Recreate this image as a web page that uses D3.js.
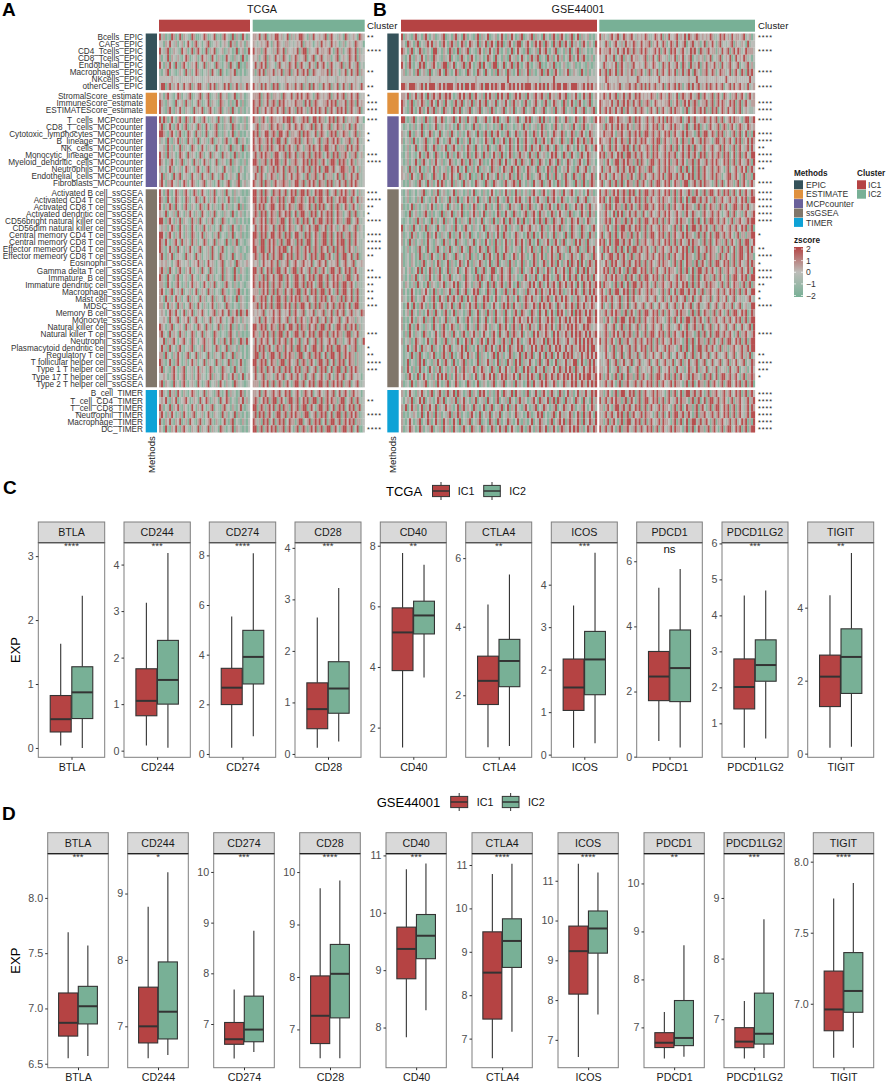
<!DOCTYPE html>
<html><head><meta charset="utf-8">
<script src="https://cdn.jsdelivr.net/npm/d3@7"></script>
<style>html,body{margin:0;padding:0;background:#fff}svg{display:block}text{font-family:"Liberation Sans",Arial,sans-serif}</style>
</head><body><script>
// ---------- DATA ----------
const methods = ["EPIC","ESTIMATE","MCPcounter","ssGSEA","TIMER"];
const epicRows = ["Bcells_EPIC","CAFs_EPIC","CD4_Tcells_EPIC","CD8_Tcells_EPIC","Endothelial_EPIC","Macrophages_EPIC","NKcells_EPIC","otherCells_EPIC"];
const estimateRows = ["StromalScore_estimate","ImmuneScore_estimate","ESTIMATEScore_estimate"];
const mcpRows = ["T_cells_MCPcounter","CD8_T_cells_MCPcounter","Cytotoxic_lymphocytes_MCPcounter","B_lineage_MCPcounter","NK_cells_MCPcounter","Monocytic_lineage_MCPcounter","Myeloid_dendritic_cells_MCPcounter","Neutrophils_MCPcounter","Endothelial_cells_MCPcounter","Fibroblasts_MCPcounter"];
const ssgseaRows = ["Activated B cell_ssGSEA","Activated CD4 T cell_ssGSEA","Activated CD8 T cell_ssGSEA","Activated dendritic cell_ssGSEA","CD56bright natural killer cell_ssGSEA","CD56dim natural killer cell_ssGSEA","Central memory CD4 T cell_ssGSEA","Central memory CD8 T cell_ssGSEA","Effector memeory CD4 T cell_ssGSEA","Effector memeory CD8 T cell_ssGSEA","Eosinophil_ssGSEA","Gamma delta T cell_ssGSEA","Immature  B cell_ssGSEA","Immature dendritic cell_ssGSEA","Macrophage_ssGSEA","Mast cell_ssGSEA","MDSC_ssGSEA","Memory B cell_ssGSEA","Monocyte_ssGSEA","Natural killer cell_ssGSEA","Natural killer T cell_ssGSEA","Neutrophil_ssGSEA","Plasmacytoid dendritic cell_ssGSEA","Regulatory T cell_ssGSEA","T follicular helper cell_ssGSEA","Type 1 T helper cell_ssGSEA","Type 17 T helper cell_ssGSEA","Type 2 T helper cell_ssGSEA"];
const timerRows = ["B_cell_TIMER","T_cell_CD4_TIMER","T_cell_CD8_TIMER","Neutrophil_TIMER","Macrophage_TIMER","DC_TIMER"];
const methodRows = [epicRows,estimateRows,mcpRows,ssgseaRows,timerRows];

const sigTCGA = ["**","","****","","","**","","**", "*","***","***", "***","","*","*","","***","****","","","", "***","****","**","*","****","","****","****","****","**","","**","****","**","**","**","***","","","","***","","*","**","****","***","","", "","**","","****","","****"];
const sigGSE = ["****","","****","","","****","","****", "","****","****", "****","","****","****","**","****","****","**","","****", "****","****","****","****","****","","*","","**","****","*","****","****","**","*","*","****","","","","****","","","**","****","***","*","", "****","****","****","****","****","****"];

// digit code for the estimated z-score of a cell, read visually per row
const zLevels = [-1.6,-0.7,0,0.5,1.8];
const tcgaIC1 = [
"413010430140321043001243012401034210403104201","220324213023024203412023401232023204130232032","421340132104230140342014032401230132014023014","302140321310243012301423104203101421031204102","420314204103420132402140312043102304120401032","102340210132041302431021304210402013240102012","222222322212222232222122322222212223222212222","244034132421423403244123042403214240324131243",
"320342102430213401234023401230412301240132012","431032104123041302143012403210431203014203012","421034103241032104132401342013402130412031021",
"414301420341043014210342013204103214032101302","340124103420340132043014201340103120431021302","443103420341014320413014021340103202401301021","312041032403104230140231034013203410234013201","223041302140312043201420312042013204013204013","423041320143204132014302140321041320140310201","432013420134013204130241302140132014032101302","312024302130243120342013402131204213012032012","240312041340231042130421304120341023120421021","342033421302430243102340231024102340213402312",
"420341024310342014301421031402130412031210101","431042014320143021430142031420130241031021012","420314304120341032014301420310142031021403012","321402130412031420310421031402103120410231021","441034203140321041304120314021043102103102010","231302431042031042013042031021402130421031201","442034203142031043102403120314021031402130101","431420134204132041302143021403120410314021012","431024130412031420134021304120341021032101201","341032401321041320413021304120431021402131012","232312023432123023241302423102340213204321232","341304120341032410230412043102140321041032101","431042103410231042103120413021040321041302101","331042013420130241320142031402103412031021012","342013402314021302401320413021043102103410201","320413024130214031204130214031204132014032101","330241320413021430142031024103120431021032102","232024314202403240132412023403241240324043142","223204123402324023412032140232412023413203212","432013402132041320143204130214031024013021302","341204132041302143021403210431021034120310101","224031342023412043202341320420314024032043142","241304120341021340123041320143021403120310201","330412031420134021403120410312043021403120201","431024103420130241302140312041302140310241012","340210342013402130241320143021043120140231012","223201342023402130243120240312042302413024023","340321041203410231042013402130420312043121012","341204130420310243102140321034102403120143021","232410324012342013204124301320412430210324131","430214032410320142031420134021034120310241012","342031420130420134021302410321041302140310201","410324103240130421034102341031024103402103102","320410324103421032140321403120431021403210102"
];
const tcgaIC2 = [
"33241340232442312403132443203142232340342213204312320432","32123234203243213312123240323202314232142320130232143220","42330342213143240322324034403223423323420341302343240312","32302340321423143203243123402340234123302340232143240322","24134240322034123143240342114230423420342123403142134021","30342403324132403340324134240143223324042320324024134032","22232222322212223222232222312222232223222132223222232212","42314142304340213423142340314042301423403240241304232142",
"33340324303323043224134242343203432323403242340324234122","43340324134304342323243330424034322334243403324034304232","43403242343142340342304342303424143240342143424034213402",
"43303420343323243440432134340244143302434043240323134220","23403323043243302342143243123404324123403243303240342112","43403244134304423403323404343124034320343403243302340312","42343134240344134023343403243302340334134243023340324112","43240334143124340342304320334143240344132403330424134121","34134243303442134043240334134034343024304340334203340231","44303340342443034203343124340434303420344304343024303212","33404320334143240343304234134034240344134123443303420312","24134203243303240324134320340334032403330240340324134112","43134043303423343303244134034243043304340324134034243112",
"44134043204334134024340344143024344134023403424303420312","44134340243304340324403343024340344124340324344134024132","34143402344124340243303443124034043402340343024303420312","34304340243304324340240344130434024134340243302340340121","43134240343303440243034304340240344134340243303440234112","24134243124034340243302340324134403240342303243302340321","44304340244134304340244130434024303440340243403340342121","43304403424303403442304340344024303440340243440340342112","44134403424134344024134303424034304324034043340342303112","34303424034134402434034303420434034403420340344124034012","32302423243140323402342134232402343240232340234123402232","44134024340344134203440342134034303420344134024340342112","43303404324134403420344134024340344134034243303440324112","43143424034134303420344134043420344034124340344134203112","33303424034043304234034403420434034403420340344124034112","43134340240344134034243403340234034340243303404324034112","33404240340344034240340344124034043304234034340240344112","32323402324234123240342134023240323403240342340234132143","23240342134234123403240342303423403240342134023423303212","44134340243304340244134043304234034403420344134034240312","43303424034034403420344134024340344134034243303440324112","24134234124034234034203403240234034123423403302342340214","34143403420343304234034403420344134024340344134203340112","34403420344134034243303440234034340240344134034243303112","44134340243303440342134034303420344134024034340243303112","34034304324134034340243403340234034340240344034034243112","24123403320342340234134203402340234203420342340234123202","33303424034034303420344134024340344134034243403340234112",
"33240342134234124340234203432402342134234024134203423202","34302434034403420344134024340344034034243303440234034112","44034303424034043304234034403420344134024034340243403412","34043403420344134034243303440234034340240344034034243012","43130434024034340243303440234034340240344134034243403312","44034034243403340342034034303424034034403420344134024002"
];
const gseIC1 = [
"40321034120341023012340120341204302103403124012302410314201340123403120412034103420134024031230102","32043203402134241320342034130243024321403240342043401342034402342034243043204134034204132034203204","43203402143013204412032043014032340210342031420341023014024210340123042341023401203140234031201023","31024103214203104321031240210341203420132014320412031042130241203413401204130241302143024134101302","42034102143402134201344032402134034201340421034402140234034102341021340102314010231012301021031012","23013203402310402134204310243012043201432041203041320431024031240310234034103420132401321041030212","22222222222222322222222222212222222223222222222222222422222222232222212222224222222222222222232222","44324443234142444234243444234241442443234144243432442343424243444234243414234344244324443234243423",
"33240324134204134234134342013424134034213042413042413401342413042134234130423134234013241024134023","43203401324310342042304210341340231403241340231402314203413203410234120341024312043024103420134021","42103410243024134032043120431402134021340213043021340231402134021340213402130412340213042134021340",
"44101340213043013421430213402413042134021341024340213402134021434021340413021430214301243014321034","20120130214013012401320132014023012041301203120130410312013204130213014301203412032130421034102312","31204103214021430214021304120310243120410341041342013402143013420143024130214321430214301342014312","30213041021340120341201341204103204102310243104103240143024103421034103420143120431034024314303421","20130214021340214301324013420130243104120314021034320143024103420413240134120431021432014201432034","10230210241034120431020413014320143014320413024130410243013413204130412310243412043104210341243121","20130214103412031421301243102143014301243010243134024102341043120431043201432043021432013420143120","31204130241013024130213014324102401302401312043130243134024310243120431024303410231421034123410231","32130421034031204310243024120431024010314024132041302143014302143012341204130412034120431034121430","20103210341204130241430214031204132014321043104321034123430412031042134013420143014321041304103431",
"10230120213401203140231012403120130240120310242013024130141302310342103420134213042134201320241301","20130120314021031420312041304103241302401320413042103410243412034203421304134201431023104123401232","30102403102130241031021402310240130243012041302140321041321041304310234103420143014301241342034123","21014023101341030210403124013240103241302401310243014210431023401342041320143024213043012042304130","10120130413021041302140312041031204130214021304103240143024304103241043043104321430214324130243120","40213041203140312042103213041203412031202401321342034103210341234123204310324134031204321043120341","30120413021014302410312041031420314012031204130241043102143120143041024130214031204104321043104130",
"30204130213014210321041302140321032140230142030413024130243142034102401324103420340213042413041213","20130210341204210341203140213042104310243104310431024310231042032403104130242143213041234013043241","30120320143013042103140321043120314013021403420341043102430243102143024103241304302134132043213043","30120320103402130243012403102430241031243102401340213041302140320143021430243042032404324042034314","32023012404102430314021403124012432014013402144023412340123040213420413024302413241043204134042314","31020314021301420134201340212310432103404312043203412341320103420314021434201340242041340243143042","20320130412014032103240132414012432031340214034023410342014032134142043024134204324134204204324134","30201420103242014031031240134023401243401204310421034031430213043124304231424314301324143204314143","31201430213421034104230413420340142034121434102410321413024013432413204134302431424320314312431424","20142041034203014023410324013410324134030431024120341430421303431243042431432043214324304324132432","20230412031024130412034102403120134012402304130421304120341043210432041240241043420324043431424314","30102410321403104130214031204210342031402140230413204310423423142413042134243014234142342431244324","30204103421031204120341024310321042130412342031204314203413042304132043243142034132434243214343123","20304203120431021420342130412034103241302412034204123403431240231042413243204241324314243432414234","30213014321024103421034013204102430421034204134210341304124302134243132404314243123421342414243423","20142034204132140320142340213241403102413043142034142043124340231424134303412434214234132434241442","20120410340210324010341304102341241320403120234041302143012403413402142041340242143434123142342424","20140210341402103142034120410234031021403124130240310423042403124120340234102403124132440241034142","30142030141020420314023013142034131243024312043104214230143104243014231403124204314243043214234243","21034201402420130241424030241324213024023412424032434132420413142431043043243143243424241424344234","30120410321340213042013402143012043102401320134021340213041320143042134243124302143124341243142434",
"31024210324120340234103412404320134032043420310342043214042310340214103420341204302413024131421434","20231401241402310243140213140324120314021304120340213041203413201342043124034043104132043204120413","31402413024031421403214231024034132043102401340213402403142103420134021432013402143124302134202431","30102132014024130413021340314302103420140231402314021302143120143012434020134024131243024304134204","31024201340214302413042301420402134021340120431043021431024103102402143120340234240343124304124314","30124320143021340213042130421034120431204320143024134024210341034203143240314203431242434130243143"
];
const gseIC2 = [
"4132134234124323421323243112432403142234132414323432323243112434231423323412302","3214302342131423243124233403242143024314123402341230240324203412123403213204122","4233342314234243143134243123424034204342134212434204313423303142340342431243332","3214231402340321423312340314204321303240324123402132303240213402324014232431202","2143123240342131342232143124320143142134204320413240324132413042134123402134131","4134043240342132430334203403240342143240314134204320334124302433124034204304342","2224322223222232222432222322224222232232222223222422223222232222422223222222422","3132432323412334234134141423413240342341430234142341324143242340234142342314123",
"3243142340324134214342323243303423143124034323421340342134034204320334134203423","4323324134134243142340334302432323340324303424134302334134034243124340340342133","4134243142340342134134320342140342134143320340234134240304340243142340340232112",
"4330244324332134304342134134134240434323340234134123343142340340234143320344134","3304324134243142303342134124340342134143320340214340320342134034303420343124323","3243334203342134134240344134134124340342134143320340344124304340320340340240304","4323340342143304234134342134144034230334204330342134143320344134134204340324143","2402340342134340240342134304340234134034024134304320342134123404230340342134142","4340334124340344134134124304342134143340234134134204340324134304340240340342144","3303420344134243303404320344134134240334134203340342134134243124340340342134304","2403342134134124340243303440234134143320340340240340342134134320340234134240342","4134203423143303420340342134134240344134134124340340342134143302344134203403304","3402340340340243303403420340344124340243303440234134143320340340243303403420342",
"4134303424134304340240344134134124340340342134303420340344124304340340240342143","4340240344134134124340340342134143320340340240344134134203403342134134124340344","2304340243303403420340344134124340340342134143320340340243303403420344134134123","3134202404240324134130420342134134242134230342143120342134134202340340230342134","3134340243303403420340344124340340342134143320340340240344134134203403342134344","3303420340344134124340340342134143320340340240344134134203403342134134124340340","3402340340243303403420340344124340340342134143320340340240344134134203403303344","4340240344134134203403342134134124340340342134143320340340243303403420340344124","3043420340340240344134134203403342134134124340340342134143320340340240344134142","2402344134134203403342134134124340340342134143320340340243303403420340344124330","3124304342134134124340340342134143320340340243303403420340344124340340342134143","3243403403420340344124340340342134143320340340240344134134203403342134134124304","3134134243303403420340344124340340342134143320340340243303403420340344124340344","4043320340340240344134134203403342134134124340340342134143320340340243303403403","3420340344124340340342134143320340340240344134134203403342134134124340340342144","2434134123403240342131234123402340314134123403240234123140234132402340231123421","2402304123403240234123402340214123402340324123402341123402340234131402340231144","3134134243303403420340344124340340342134143320340340243303403420340344124340143","3303420340344124340340342134143320340340240344134134203403342134134124340340344","2234123402340314123403240234123402341123402340234131402340324123402340214123404","3134303424134134303420340344124340340342134143320340340240344134134203403342134","4134134203403342134134124340340342134143320340340243303403420340344124340340344","3134203403342134134124340340342134143320340340240344134134203403303342134134144","2124123402340234131402340324123402340214123402340324123402341123402340234131402","3123402340324123402341123402340234131402340324123402340214123402340324123402143","3312402134032240123403213240134023241304213024312403124023140321304213402130242",
"4303420340340243303403420340344124340340342134143320340340240344134134203403343","3134134203403342134134124340340342134143320340340243303403420340344124340340340","3303420340344124340340342134143320340340240344134134203403342134134124340340342","4134134243303403420340344124340340342134143320340340240344134134203403342134134","3303420344134134124340340342134143320340340243303403420340344124340340342134143","3134134124340340342134143320340340240344134134203403342134134124340340342134144","3303403420340344124340340342134143320340340240344134134203403342134134124340304","4134134203403342134134124340340342134143320340340243303403420340344124340340344"
];

// boxplots: [whiskerLow, q1, median, q3, whiskerHigh]
const genes = ["BTLA","CD244","CD274","CD28","CD40","CTLA4","ICOS","PDCD1","PDCD1LG2","TIGIT"];
const tcgaSig = ["****","***","****","***","**","**","***","ns","***","**"];
const gseSig = ["***","*","***","****","***","****","****","**","***","****"];
const tcgaBoxIC1 = [[0.04,0.25,0.45,0.82,1.63],[0.11,0.75,1.07,1.76,3.18],[0.25,1.99,2.67,3.45,5.54],[0.12,0.49,0.87,1.38,2.65],[1.34,3.88,5.14,5.95,7.76],[0.48,1.73,2.42,3.14,4.65],[0.16,1.04,1.58,2.25,3.51],[0.48,1.72,2.46,3.23,5.19],[0.32,1.40,2.01,2.79,4.55],[0.16,1.29,2.11,2.70,4.34]];
const tcgaBoxIC2 = [[0,0.46,0.87,1.27,2.38],[0.06,1.0,1.52,2.37,4.25],[0.71,2.82,3.91,4.98,8.09],[0.24,0.79,1.27,1.79,3.22],[3.65,5.09,5.70,6.17,7.37],[0.52,2.25,3.0,3.63,5.52],[0.27,1.41,2.24,2.90,4.75],[0.28,1.69,2.72,3.89,5.76],[0.58,2.17,2.62,3.32,4.69],[0.19,1.65,2.65,3.42,5.50]];
const tcgaDomain = [[-0.146,3.21],[-0.143,4.47],[-0.134,8.51],[-0.065,4.10],[1.02,8.10],[0.19,6.45],[-0.063,4.988],[-0.02,6.57],[0.056,6.02],[-0.10,5.78]];
const tcgaTicks = [[0,1,2,3],[0,1,2,3,4],[0,2,4,6,8],[0,1,2,3,4],[2,4,6,8],[2,4,6],[0,1,2,3,4],[0,2,4,6],[1,2,3,4,5,6],[0,2,4]];
const gseBoxIC1 = [[6.55,6.75,6.87,7.14,7.69],[6.52,6.75,7.0,7.59,8.80],[6.32,6.60,6.70,7.03,7.68],[6.45,6.73,7.26,8.02,9.69],[7.83,8.85,9.37,9.75,10.76],[6.55,7.45,8.52,9.46,10.79],[6.57,8.15,9.23,9.86,11.43],[6.35,6.58,6.68,6.89,7.32],[6.35,6.53,6.63,6.86,7.30],[6.62,6.81,6.96,7.23,7.74]];
const gseBoxIC2 = [[6.57,6.86,7.02,7.20,7.57],[6.57,6.81,7.22,7.97,9.32],[6.45,6.65,6.89,7.55,8.84],[6.45,7.22,8.06,8.62,9.84],[8.30,9.20,9.60,9.97,10.86],[7.16,8.64,9.25,9.76,11.03],[7.64,9.18,9.80,10.24,11.21],[6.39,6.62,6.78,7.56,8.71],[6.36,6.59,6.76,7.43,8.65],[6.69,6.94,7.09,7.36,7.85]];
const gseDomain = [[6.464,8.40],[6.377,9.60],[6.138,10.36],[6.27,10.35],[7.30,11.03],[6.33,11.26],[6.30,11.68],[6.16,10.62],[6.20,9.73],[6.55,8.056]];
const gseTicks = [[6.5,7,7.5,8],[7,8,9],[7,8,9,10],[7,8,9,10],[8,9,10,11],[7,8,9,10,11],[7,8,9,10,11],[7,8,9,10],[7,8,9],[7,7.5,8]];

// ---------- STYLE / LAYOUT ----------
const RED="#b54343", GREEN="#78b096", INK="#333";
const methodColor = d3.scaleOrdinal(methods,["#35525a","#e0913e","#6a619a","#80766a","#0ea2d6"]);
const clusterColor = d3.scaleOrdinal(["IC1","IC2"],[RED,GREEN]);
const zColor = d3.scaleLinear().domain([-2,0,2]).range([GREEN,"#bdbdb9",RED]);
const svg = d3.select("body").append("svg").attr("width",886).attr("height",1085);
const FONT="Liberation Sans";
const defs=svg.append("defs");
defs.append("filter").attr("id","soft").attr("x","-2%").attr("width","104%").append("feGaussianBlur").attr("stdDeviation","0.45 0.15");
function txt(g,x,y,s,size,opt={}){
  const t=g.append("text").attr("x",x).attr("y",y).text(s).attr("font-size",size).attr("fill",opt.fill||"#1a1a1a")
    .attr("text-anchor",opt.anchor||"start");
  if(opt.bold)t.attr("font-weight","bold");
  if(opt.rot!=null)t.attr("transform",`rotate(${opt.rot} ${x} ${y})`);
  t.style("white-space","pre");
  return t;
}

// panel letters
[["A",2,16],["B",373,16],["C",3,494],["D",2,820]].forEach(d=>txt(svg,d[1],d[2],d[0],19,{bold:true,fill:"#000"}));

const rowH=7.07, groupTops=[33.5,92.7,116.3,189.3,390];
const groupScales=methodRows.map((rows,i)=>d3.scaleBand().domain(rows).range([groupTops[i],groupTops[i]+rows.length*rowH]));

function heat(cfg){
  const g=svg.append("g");
  txt(g,cfg.titleX,12.5,cfg.title,10.8,{anchor:"middle"});
  txt(g,cfg.clusterX,29,"Cluster",9.6);
  const yr=methods.map((m,i)=>groupScales[i]);
  [["IC1",cfg.x1],["IC2",cfg.x2]].forEach(([c,r])=>{
    g.append("rect").attr("x",r[0]).attr("y",19.7).attr("width",r[1]-r[0]).attr("height",12).attr("fill",clusterColor(c));
  });
  methods.forEach((m,i)=>{
    const s=yr[i];
    g.append("rect").attr("x",cfg.mx[0]).attr("y",s.range()[0]).attr("width",cfg.mx[1]-cfg.mx[0]).attr("height",s.range()[1]-s.range()[0]).attr("fill",methodColor(m));
  });
  txt(g,cfg.mx[0]+9,473,"Methods",9.6,{rot:-90});
  let idx=0;
  methods.forEach((m,i)=>{
    const s=yr[i];
    const cellsA=g.append("g").attr("filter","url(#soft)"), cellsB=g.append("g").attr("filter","url(#soft)");
    methodRows[i].forEach(rn=>{
      const k=idx++;
      [[cfg.a[k],cfg.x1,cellsA],[cfg.b[k],cfg.x2,cellsB]].forEach(([str,r,cg])=>{
        const vals=Array.from(str,c=>zLevels[+c]);
        const x=d3.scaleBand().domain(d3.range(vals.length)).range(r);
        cg.append("g").selectAll("rect").data(vals).join("rect")
          .attr("x",(d,j)=>x(j)).attr("y",s(rn)).attr("width",x.bandwidth()+0.15).attr("height",s.bandwidth()+0.1)
          .attr("fill",d=>zColor(d));
      });
      if(cfg.labels) txt(g,143,s(rn)+s.bandwidth()/2+2.9,rn,8.2,{anchor:"end",fill:"#333"});
      if(cfg.sig[k]) txt(g,cfg.clusterX,s(rn)+s.bandwidth()/2+3.0,cfg.sig[k],7.2,{fill:"#222"}).attr("letter-spacing",0.95);
    });
  });
}
heat({title:"TCGA",titleX:262,clusterX:367,x1:[159,250],x2:[252.7,364.7],mx:[145.7,157],a:tcgaIC1,b:tcgaIC2,sig:sigTCGA,labels:true});
heat({title:"GSE44001",titleX:578,clusterX:758,x1:[401,597],x2:[599.3,755],mx:[387.3,398.7],a:gseIC1,b:gseIC2,sig:sigGSE,labels:false});

// heatmap legends
(function(){
  const g=svg.append("g");
  txt(g,794,175.5,"Methods",8.2,{bold:true});
  const ms=d3.scaleBand().domain(methods).range([180.3,227.3]);
  methods.forEach(m=>{
    g.append("rect").attr("x",794).attr("y",ms(m)).attr("width",9).attr("height",ms.bandwidth()-0.4).attr("fill",methodColor(m));
    txt(g,806,ms(m)+ms.bandwidth()/2+3,m,8.6,{fill:"#333"});
  });
  txt(g,857,175.5,"Cluster",8.2,{bold:true});
  const cs=d3.scaleBand().domain(["IC1","IC2"]).range([180.3,199.1]);
  cs.domain().forEach(c=>{
    g.append("rect").attr("x",857).attr("y",cs(c)).attr("width",9).attr("height",cs.bandwidth()-0.4).attr("fill",clusterColor(c));
    txt(g,868,cs(c)+cs.bandwidth()/2+3,c,8.6,{fill:"#333"});
  });
  txt(g,794,243,"zscore",8.2,{bold:true});
  const lg=defs.append("linearGradient").attr("id","zg").attr("x1",0).attr("x2",0).attr("y1",0).attr("y2",1);
  [[0,2],[.25,1],[.5,0],[.75,-1],[1,-2]].forEach(([o,v])=>lg.append("stop").attr("offset",o).attr("stop-color",zColor(v)));
  g.append("rect").attr("x",794).attr("y",247).attr("width",9).attr("height",50).attr("fill","url(#zg)");
  const zy=d3.scaleLinear().domain([2,-2]).range([249,295.5]);
  [2,1,0,-1,-2].forEach(v=>{
    g.append("path").attr("d",`M794,${zy(v)}h2M801,${zy(v)}h2`).attr("stroke","#fff").attr("stroke-width",0.7);
    txt(g,806,zy(v)+3.1,String(v).replace("-","\u2212"),8.6,{fill:"#333"});
  });
})();

// boxplots
function boxRow(cfg){
  const g=svg.append("g");
  txt(g,15.5,(cfg.top+cfg.bottom)/2,"EXP",13,{rot:-90,anchor:"middle",fill:"#000"}).attr("dy",4.5);
  txt(g,cfg.legTitleX,cfg.legY+4.5,cfg.title,13,{fill:"#000"});
  ["IC1","IC2"].forEach((c,i)=>{
    const [x0,x1]=cfg.legKeys[i], cx=(x0+x1)/2;
    g.append("path").attr("d",`M${cx},${cfg.legY-9}V${cfg.legY+9}`).attr("stroke",INK).attr("stroke-width",1);
    g.append("rect").attr("x",x0).attr("y",cfg.legY-5.6).attr("width",x1-x0).attr("height",11.2).attr("fill",clusterColor(c)).attr("stroke",INK).attr("stroke-width",1);
    g.append("path").attr("d",`M${x0},${cfg.legY}H${x1}`).attr("stroke",INK).attr("stroke-width",1.5);
    txt(g,cfg.legTextX[i],cfg.legY+3.8,c,10.7,{fill:"#111"});
  });
  genes.forEach((gene,i)=>{
    const [L,R]=cfg.xs[i], W=R-L;
    const p=g.append("g");
    const y=d3.scaleLinear().domain(cfg.domain[i]).range([cfg.bottom,cfg.top]);
    const xb=d3.scaleBand().domain(["IC1","IC2"]).range([L+0.175*W,R-0.175*W]);
    p.append("rect").attr("x",L).attr("y",cfg.stripTop).attr("width",W).attr("height",cfg.top-cfg.stripTop).attr("fill","#d9d9d9").attr("stroke","#7f7f7f").attr("stroke-width",1);
    txt(p,(L+R)/2,(cfg.stripTop+cfg.top)/2+3.9,gene,10.7,{anchor:"middle",fill:"#1a1a1a"});
    [["IC1",cfg.ic1[i]],["IC2",cfg.ic2[i]]].forEach(([c,s])=>{
      const cx=xb(c)+xb.bandwidth()/2;
      p.append("path").attr("d",`M${cx},${y(s[0])}V${y(s[1])}M${cx},${y(s[3])}V${y(s[4])}`).attr("stroke",INK).attr("stroke-width",1.1);
      p.append("rect").attr("x",xb(c)+.3).attr("width",xb.bandwidth()-.6).attr("y",y(s[3])).attr("height",y(s[1])-y(s[3])).attr("fill",clusterColor(c)).attr("stroke",INK).attr("stroke-width",1.1);
      p.append("path").attr("d",`M${xb(c)+.3},${y(s[2])}H${xb(c)+xb.bandwidth()-.3}`).attr("stroke",INK).attr("stroke-width",2);
    });
    p.append("rect").attr("x",L).attr("y",cfg.top).attr("width",W).attr("height",cfg.bottom-cfg.top).attr("fill","none").attr("stroke","#7f7f7f").attr("stroke-width",1);
    p.append("path").attr("d",`M${L},${cfg.top}H${R}`).attr("stroke",cfg.stripLine).attr("stroke-width",1.2);
    const fmt=cfg.ticks[i].some(v=>v%1)?d3.format(".1f"):d3.format("d");
    const ax=p.append("g").attr("transform",`translate(${L},0)`).call(d3.axisLeft(y).tickValues(cfg.ticks[i]).tickFormat(fmt).tickSize(2.5).tickPadding(2));
    const xa=d3.scalePoint().domain([gene]).range([L,R]).padding(.5);
    const ax2=p.append("g").attr("transform",`translate(0,${cfg.bottom})`).call(d3.axisBottom(xa).tickSize(2.5).tickPadding(3.5));
    [ax,ax2].forEach(a=>{a.select(".domain").remove();a.selectAll("line").attr("stroke","#333");a.selectAll("text").attr("font-size",10.7).attr("font-family",FONT);});
    ax.selectAll("text").attr("fill","#4d4d4d");ax2.selectAll("text").attr("fill","#1a1a1a");
    const sg=cfg.sig[i];
    if(sg==="ns") txt(p,(L+R)/2,cfg.top+10,sg,11.5,{anchor:"middle",fill:"#111"});
    else txt(p,(L+R)/2,cfg.top+6.5,sg,9.6,{anchor:"middle",fill:"#333"});
  });
}
boxRow({title:"TCGA",top:542.7,bottom:757.3,stripTop:522,stripLine:"#555",legY:491,legTitleX:386,legKeys:[[432.5,449.5],[483.7,500.3]],legTextX:[457.7,509.3],
  xs:[[38.3,104.7],[124,190.3],[209.3,275.7],[295,361],[380.3,446.3],[465.7,531.7],[551.3,617.3],[636.7,702.3],[722,788],[807.7,873.7]],
  domain:tcgaDomain,ticks:tcgaTicks,ic1:tcgaBoxIC1,ic2:tcgaBoxIC2,sig:tcgaSig});
boxRow({title:"GSE44001",top:853.7,bottom:1067.7,stripTop:832.7,stripLine:"#222",legY:802,legTitleX:376.7,legKeys:[[450.7,467.7],[502.3,519]],legTextX:[476.7,528],
  xs:[[47.7,108.3],[127.7,188.3],[213.7,274.3],[299.7,360.3],[386,446.3],[472,532.3],[558,618.3],[644,704.3],[724,784.3],[813.3,873.7]],
  domain:gseDomain,ticks:gseTicks,ic1:gseBoxIC1,ic2:gseBoxIC2,sig:gseSig});
</script></body></html>
